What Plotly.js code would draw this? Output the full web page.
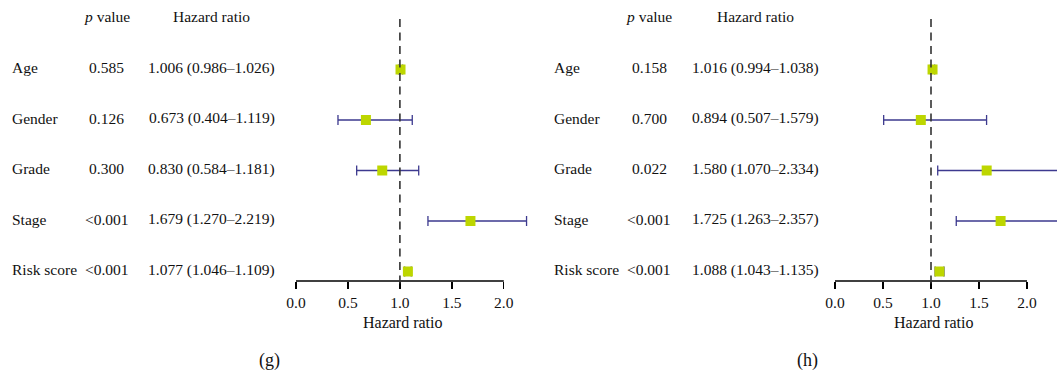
<!DOCTYPE html>
<html>
<head>
<meta charset="utf-8">
<script src="https://cdn.plot.ly/plotly-3.0.1.min.js"></script>
<style>
  html, body { margin: 0; padding: 0; background: #fff; }
  #chart { width: 1057px; height: 372px; }
</style>
</head>
<body>
<div id="chart"></div>
<script>
// ---- data ----
const variables = ['Age', 'Gender', 'Grade', 'Stage', 'Risk score'];

const pValuesG = ['0.585', '0.126', '0.300', '<0.001', '<0.001'];
const hrG      = [1.006, 0.673, 0.830, 1.679, 1.077];
const lowerG   = [0.986, 0.404, 0.584, 1.270, 1.046];
const upperG   = [1.026, 1.119, 1.181, 2.219, 1.109];

const pValuesH = ['0.158', '0.700', '0.022', '<0.001', '<0.001'];
const hrH      = [1.016, 0.894, 1.580, 1.725, 1.088];
const lowerH   = [0.994, 0.507, 1.070, 1.263, 1.043];
const upperH   = [1.038, 1.579, 2.334, 2.357, 1.135];

const tickVals   = [0, 0.5, 1, 1.5, 2];
const tickLabels = ['0.0', '0.5', '1.0', '1.5', '2.0'];
const refLine = 1;
const panelLabels = ['(g)', '(h)'];

// ---- layout helpers ----
const W = 1057, H = 372;
const FONT = 'Liberation Serif, Times New Roman, serif';
const px = p => p / W;          // horizontal pixel -> paper
const py = p => (H - p) / H;    // vertical pixel -> paper
const rowPos = variables.map((_, i) => variables.length - i); // 5..1

const boxColor = '#bdd600';
const ciColor = '#3d3a8f';
const textColor = '#111';

function fmt(hr, lo, hi) {
  return hr.toFixed(3) + ' (' + lo.toFixed(3) + '–' + hi.toFixed(3) + ')';
}

function makeTrace(hr, lo, hi, xa) {
  return {
    type: 'scatter', mode: 'markers',
    x: hr, y: rowPos, xaxis: xa, yaxis: 'y',
    marker: { symbol: 'square', size: 10, color: boxColor, line: { width: 0 } },
    error_x: {
      type: 'data', symmetric: false,
      array: hi.map((v, i) => v - hr[i]),
      arrayminus: lo.map((v, i) => hr[i] - v),
      color: ciColor, thickness: 1.3, width: 5
    },
    hoverinfo: 'skip', showlegend: false
  };
}

const data = [
  makeTrace(hrG, lowerG, upperG, 'x'),
  makeTrace(hrH, lowerH, upperH, 'x2')
];

const panels = [
  { pv: pValuesG, hr: hrG, lo: lowerG, hi: upperG, labelX: 10, pX: 106.5, hrX: 211.5, xref: 'x', titleX: 403, tagX: 269 },
  { pv: pValuesH, hr: hrH, lo: lowerH, hi: upperH, labelX: 551.5, pX: 649, hrX: 755.5, xref: 'x2', titleX: 933.5, tagX: 807.5 }
];

const annotations = [];
const shapes = [];
const txtFont = { family: FONT, size: 15.5, color: textColor };
const headerY = 6.05;

panels.forEach((p, k) => {
  annotations.push({ xref: 'paper', yref: 'y', x: px(p.pX), y: headerY, text: '<i>p</i> value',
    showarrow: false, xanchor: 'center', yanchor: 'middle', font: txtFont });
  annotations.push({ xref: 'paper', yref: 'y', x: px(p.hrX), y: headerY, text: 'Hazard ratio',
    showarrow: false, xanchor: 'center', yanchor: 'middle', font: txtFont });
  variables.forEach((v, i) => {
    annotations.push({ xref: 'paper', yref: 'y', x: px(p.labelX), y: rowPos[i] + 0.03, text: v,
      showarrow: false, xanchor: 'left', yanchor: 'middle', font: txtFont });
    annotations.push({ xref: 'paper', yref: 'y', x: px(p.pX), y: rowPos[i] + 0.03, text: p.pv[i].replace('<', '&lt;'),
      showarrow: false, xanchor: 'center', yanchor: 'middle', font: txtFont });
    annotations.push({ xref: 'paper', yref: 'y', x: px(p.hrX), y: rowPos[i] + 0.03, text: fmt(p.hr[i], p.lo[i], p.hi[i]),
      showarrow: false, xanchor: 'center', yanchor: 'middle', font: txtFont });
  });
  annotations.push({ xref: 'paper', yref: 'paper', x: px(p.titleX), y: py(322), text: 'Hazard ratio',
    showarrow: false, xanchor: 'center', yanchor: 'middle', font: { family: FONT, size: 16, color: textColor } });
  annotations.push({ xref: 'paper', yref: 'paper', x: px(p.tagX), y: py(360), text: panelLabels[k],
    showarrow: false, xanchor: 'center', yanchor: 'middle', font: { family: FONT, size: 18, color: textColor } });

  // axis line from first to last tick
  shapes.push({ type: 'line', xref: p.xref, yref: 'paper',
    x0: tickVals[0], x1: tickVals[tickVals.length - 1], y0: py(281), y1: py(281),
    line: { color: '#000', width: 1.3 } });
  // reference dashed line
  shapes.push({ type: 'line', xref: p.xref, yref: 'paper',
    x0: refLine, x1: refLine, y0: py(19), y1: py(286),
    line: { color: '#333', width: 1.6, dash: '8px,5.5px' } });
});

const axisCommon = {
  showline: false, showgrid: false, zeroline: false,
  ticks: 'outside', ticklen: 7, tickwidth: 1.3, tickcolor: '#000',
  tickmode: 'array', tickvals: tickVals, ticktext: tickLabels,
  tickfont: { family: FONT, size: 15.5, color: textColor },
  fixedrange: true
};

const layout = {
  width: W, height: H,
  margin: { l: 0, r: 0, t: 0, b: 0 },
  paper_bgcolor: '#fff', plot_bgcolor: 'rgba(0,0,0,0)',
  xaxis: Object.assign({}, axisCommon, { domain: [px(296), px(531)], range: [0, (531 - 296) / 103.9], anchor: 'y' }),
  xaxis2: Object.assign({}, axisCommon, { domain: [px(835), 1], range: [0, (1057 - 835) / 96], anchor: 'y' }),
  yaxis: { domain: [py(281), 1], range: [1 - (281 - 271.5) / 50.5, 1 + 271.5 / 50.5],
    visible: false, fixedrange: true },
  annotations: annotations,
  shapes: shapes
};

Plotly.newPlot('chart', data, layout, { staticPlot: true, displayModeBar: false });
</script>
</body>
</html>
